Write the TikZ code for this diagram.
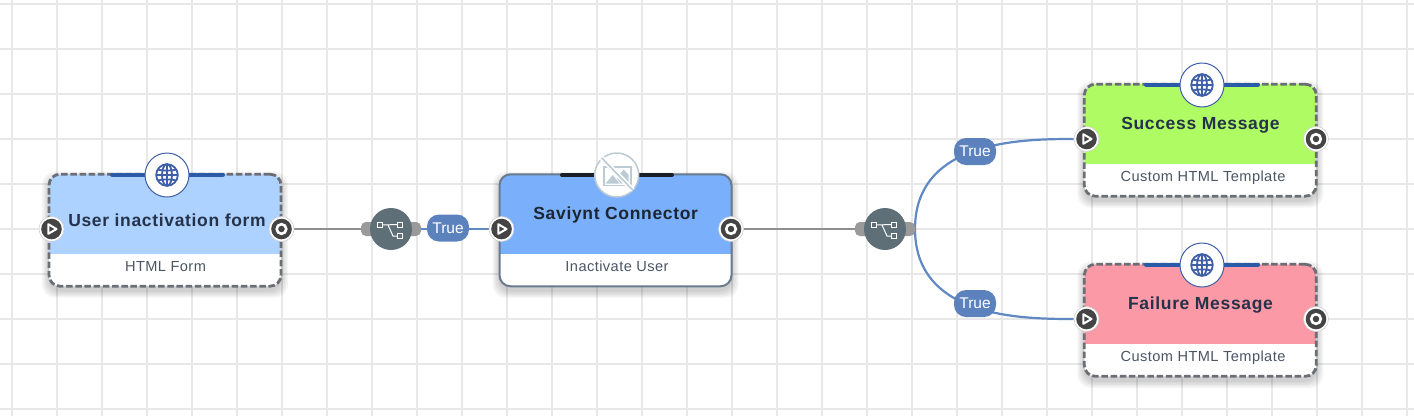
\documentclass[tikz,border=0pt]{standalone}
\usepackage{fontspec}
\setmainfont{Liberation Sans}
\newfontfamily\titlefam[LetterSpace=3.8]{Liberation Sans}
\newfontfamily\subfam[LetterSpace=3]{Liberation Sans}
\usetikzlibrary{calc}
\definecolor{gridc}{HTML}{E8E8E8}
\definecolor{wireg}{HTML}{8F8F8F}
\definecolor{wireb}{HTML}{6088C2}
\definecolor{pillb}{HTML}{5C82BD}
\definecolor{portd}{HTML}{444444}
\definecolor{swc}{HTML}{5F6F78}
\definecolor{stubc}{HTML}{9A9A9A}
\definecolor{globec}{HTML}{3F5FA8}
\definecolor{barb}{HTML}{2A5BA8}
\definecolor{bark}{HTML}{1A1F26}
\definecolor{edgeg}{HTML}{6B6F75}
\definecolor{edges2}{HTML}{6A7A8E}
\definecolor{noimg}{HTML}{BCCAD4}
\definecolor{ttl}{HTML}{26324A}
\definecolor{ttlk}{HTML}{1C2530}
\definecolor{subc}{HTML}{4B5563}
\definecolor{cblue}{HTML}{ADD2FF}
\definecolor{cmid}{HTML}{7AB0FB}
\definecolor{cgreen}{HTML}{AEFB63}
\definecolor{cred}{HTML}{FB99A6}
\pgfdeclarelayer{edges}
\pgfdeclarelayer{backdrop}
\pgfsetlayers{backdrop,edges,main}
\tikzset{
  x=1pt,y=-1pt,
  cardbase/.style={rectangle,rounded corners=11pt,minimum width=232pt,minimum height=112pt,inner sep=0pt,fill=white},
  cardhead/.style={path picture={\fill[#1,sharp corners] (path picture bounding box.north west) rectangle ([yshift=-80pt]path picture bounding box.north east);}},
  dashedge/.style={preaction={draw=#1,line width=1.2pt},draw=edgeg,line width=2.8pt,dash pattern=on 6.5pt off 2.7pt},
  solidedge/.style={draw=edges2,line width=2pt},
  titletext/.style={font=\titlefam\fontsize{17.5}{20}\selectfont\bfseries,text=ttl,inner sep=0pt,anchor=base},
  subtext/.style={font=\subfam\fontsize{14.6}{16}\selectfont,text=subc,inner sep=0pt,anchor=base},
  portnode/.style={circle,fill=white,draw=black!18,line width=.6pt,minimum size=25pt,inner sep=0pt},
  switchnode/.style={circle,fill=swc,minimum size=42pt,inner sep=0pt},
  stubnode/.style={rectangle,rounded corners=5pt,fill=stubc,minimum width=60pt,minimum height=14pt,inner sep=0pt},
  pillnode/.style={rectangle,rounded corners=12pt,fill=pillb,text=white,minimum width=42pt,minimum height=27pt,inner sep=0pt,font=\fontsize{15.5}{18}\selectfont},
  iconnode/.style={circle,fill=white,minimum size=44pt,inner sep=0pt,line width=1pt},
  greywire/.style={draw=wireg,line width=2pt},
  bluewire/.style={draw=wireb,line width=2.2pt},
  topbar/.style={line width=4pt,line cap=round},
  playicon/.pic={
    \fill[portd] (0,0) circle (10.3);
    \draw[white,line width=2pt,line join=round] (-3.2,-4.8) -- (5,0) -- (-3.2,4.8) -- cycle;
  },
  stopicon/.pic={
    \fill[portd] (0,0) circle (10.3);
    \draw[white,line width=2.6pt] (0,0) circle (4.8);
  },
  globeicon/.pic={
    \begin{scope}[globec,line width=1.8pt]
      \draw (0,0) circle (10.8);
      \draw (0,0) ellipse (5 and 10.8);
      \draw (0,-10.8) -- (0,10.8);
      \draw (-10.8,0) -- (10.8,0);
      \draw (-9,-5.4) .. controls (-4,-4) and (4,-4) .. (9,-5.4);
      \draw (-9,5.4) .. controls (-4,4) and (4,4) .. (9,5.4);
    \end{scope}
  },
  noimgicon/.pic={
    \begin{scope}[noimg]
      \draw[line width=1.8pt] (-13,-8) rectangle (14,10.5);
      \fill (-11,8.5) -- (-4,0) -- (3,8.5) -- cycle;
      \fill (0,3) -- (7,-5.5) -- (12,0) -- (12,8.5) -- (4,8.5) -- cycle;
      \draw[line width=5pt,white] (-15,-17) -- (16,15);
      \draw[line width=1.6pt] (-15,-17) -- (16,15);
    \end{scope}
  },
  switchicon/.pic={
    \begin{scope}[white,line width=1pt]
      \draw (-13.5,-6.5) rectangle (-8.5,-1.5);
      \draw (6.5,-7) rectangle (11.5,-2);
      \draw (6.5,4.5) rectangle (11.5,9.5);
      \draw (-8.5,-4) -- (6.5,-4.5);
      \draw (-3,-4) -- (2,7) -- (6.5,7);
    \end{scope}
  }
}
% name, centre x, centre y of the card, fill, edge style, title, title base, subtitle, subtitle base
\newcommand\flowcard[9]{%
  \foreach \s in {7,5.5,4,2.5,1}{%
    \fill[black,opacity=0.04,rounded corners=13pt] (#2-116-\s,#3-56-\s+4.5) rectangle (#2+116+\s,#3+56+\s+4.5);}
  \node[cardbase,cardhead=#4,#5] (#1) at (#2,#3) {};
  \node[titletext] (#1t) at (#7) {#6};
  \node[subtext] (#1s) at (#9) {#8};
}
\begin{document}
\begin{tikzpicture}
\useasboundingbox (0,0) rectangle (1414,416);
\begin{pgfonlayer}{backdrop}
  \fill[white] (0,0) rectangle (1414,416);
  \foreach \i in {0,...,31} \draw[gridc,line width=2pt] (12+45*\i,0) -- (12+45*\i,416);
  \foreach \j in {0,...,9} \draw[gridc,line width=2pt] (0,4+45*\j) -- (1414,4+45*\j);
\end{pgfonlayer}

\flowcard{form}{165}{230.2}{cblue}{dashedge=cblue}{User inactivation form}{167,226}{HTML Form}{165.5,271.5}
\flowcard{conn}{615.5}{230.3}{cmid}{solidedge}{\textcolor{ttlk}{Saviynt Connector}}{615.7,219.3}{Inactivate User}{617,271.5}
\flowcard{succ}{1200.3}{140.2}{cgreen}{dashedge=cgreen}{Success Message}{1200.5,129.3}{Custom HTML Template}{1203,181.5}
\flowcard{fail}{1200.3}{320.3}{cred}{dashedge=cred}{Failure Message}{1200.5,309.3}{Custom HTML Template}{1203,361.5}

% top bars
\draw[topbar,barb] (112,174.5) -- (223,174.5);
\draw[topbar,bark] (562,175) -- (672,175);
\draw[topbar,barb] (1146,84.5) -- (1258,84.5);
\draw[topbar,barb] (1146,264.5) -- (1258,264.5);

% badge icons
\node[iconnode,draw=globec] (formi) at (167,175) {};
\pic at (formi) {globeicon};
\node[iconnode,draw=noimg,line width=1.5pt] (conni) at (616.7,175) {};
\pic at (conni) {noimgicon};
\node[iconnode,draw=globec] (succi) at (1202,85) {};
\pic at (succi) {globeicon};
\node[iconnode,draw=globec] (faili) at (1202,265) {};
\pic at (faili) {globeicon};

% ports
\node[portnode] (formin) at (51.5,229) {};
\node[portnode] (formout) at (281.5,229) {};
\node[portnode] (connin) at (501.5,229) {};
\node[portnode] (connout) at (731,229) {};
\node[portnode] (succin) at (1086.5,139) {};
\node[portnode] (succout) at (1316,139) {};
\node[portnode] (failin) at (1086.5,319) {};
\node[portnode] (failout) at (1316,319) {};
\pic at (formin) {playicon};
\pic at (connin) {playicon};
\pic at (succin) {playicon};
\pic at (failin) {playicon};
\pic at (formout) {stopicon};
\pic at (connout) {stopicon};
\pic at (succout) {stopicon};
\pic at (failout) {stopicon};

% switches
\node[stubnode] (swa) at (391,229) {};
\node[switchnode] (swac) at (391,229) {};
\pic at (swac) {switchicon};
\node[stubnode] (swb) at (885,229) {};
\node[switchnode] (swbc) at (885,229) {};
\pic at (swbc) {switchicon};

% condition labels
\node[pillnode] (tra) at (448,228) {True};
\node[pillnode] (trb) at (975,151.5) {True};
\node[pillnode] (trc) at (975,303.5) {True};

% connectors
\coordinate (swbe) at (915,229);
\begin{pgfonlayer}{edges}
  \draw[greywire] (formout) -- (swa.west);
  \draw[greywire] (connout) -- (swb.west);
  \draw[bluewire] (swa.east) -- (connin);
  \draw[bluewire] (swbe) .. controls (915,140) and (1022,139) .. (succin);
  \draw[bluewire] (swbe) .. controls (915,318) and (1022,319) .. (failin);
\end{pgfonlayer}
\end{tikzpicture}
\end{document}
